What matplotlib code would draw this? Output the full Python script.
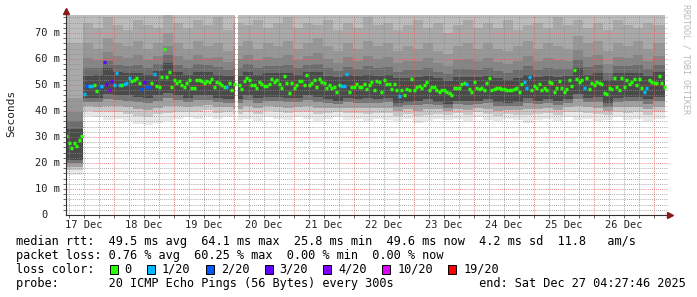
import numpy as np
import matplotlib
matplotlib.use("Agg")
import matplotlib.pyplot as plt
from matplotlib.patches import Rectangle
from matplotlib import transforms

# hour 0 = 17 Dec 00:00, one median value per hour from hour 5 on
first_hour = 5
median_ms = [
    30.4, 27.8, 25.8, 27.6, 26.7, 28.8, 30.4, 46.5, 49.5, 49.5, 49.5, 49.9,
    47.8, 49.1, 49.5, 58.7, 50.4, 48.1, 51.7, 50.1, 54.5, 50.1, 49.9, 50.4,
    50.9, 52.5, 51.7, 51.9, 52.7, 50.6, 48.6, 51.0, 49.2, 49.1, 50.8, 54.1,
    49.6, 49.1, 53.2, 63.8, 53.2, 55.0, 49.2, 51.9, 50.9, 51.5, 50.1, 49.4,
    50.6, 51.9, 48.8, 48.8, 51.9, 51.9, 51.5, 50.6, 51.7, 51.0, 52.3, 49.4,
    51.2, 50.6, 50.1, 49.2, 49.1, 50.9, 48.1, 50.4, np.nan, 50.1, 48.3, 51.7,
    52.6, 51.9, 50.0, 50.0, 48.7, 51.2, 50.4, 49.6, 49.6, 50.4, 52.2, 51.0,
    51.9, 50.4, 48.7, 53.6, 50.9, 46.8, 50.9, 48.8, 49.9, 51.4, 51.4, 49.8,
    53.8, 49.8, 50.6, 51.9, 49.2, 52.2, 51.3, 50.9, 48.7, 50.0, 48.7, 49.4,
    47.4, 50.0, 49.7, 49.7, 54.2, 47.4, 49.4, 49.4, 50.4, 49.4, 49.4, 50.3,
    48.5, 49.8, 51.0, 48.1, 51.7, 51.3, 47.4, 51.9, 50.4, 50.3, 48.5, 50.3,
    48.1, 45.8, 47.9, 46.2, 48.5, 47.9, 52.2, 48.1, 49.4, 49.7, 48.7, 50.0,
    51.0, 48.1, 49.1, 49.1, 48.1, 47.4, 48.1, 47.9, 47.4, 46.8, 46.2, 48.7,
    48.7, 48.7, 50.3, 50.9, 50.3, 48.5, 47.4, 51.3, 49.0, 48.3, 49.0, 48.1,
    50.6, 52.6, 47.9, 48.3, 48.7, 48.7, 48.3, 48.3, 47.9, 48.1, 48.1, 48.3,
    49.0, 47.4, 50.3, 51.3, 49.0, 53.0, 48.1, 49.7, 49.0, 50.4, 47.9, 49.0,
    48.1, 51.3, 50.6, 47.4, 48.7, 51.5, 48.7, 47.4, 48.5, 51.9, 49.7, 55.8,
    52.2, 51.3, 51.9, 49.0, 52.8, 48.3, 50.9, 50.0, 51.0, 50.6, 50.3, 47.1,
    46.5, 48.7, 48.3, 52.6, 49.1, 48.1, 52.6, 49.4, 51.9, 50.4, 51.0, 52.3,
    49.8, 52.2, 48.7, 47.2, 49.0, 51.9, 51.3, 50.6, 50.9, 53.5, 50.9, 49.4,
]
gap_hours = [73]

# hours with lost pings (out of 20)
loss_hours = [12, 13, 14, 15, 18, 19, 20, 21, 22, 23, 24, 25, 26, 28, 29, 30,
              35, 36, 37, 38, 40, 69, 115, 116, 117, 138, 165, 188, 189, 190,
              212, 236, 237]
loss_counts = [1, 2, 1, 1, 2, 1, 3, 3, 4, 3, 1, 1, 1, 1, 1, 1,
               2, 3, 2, 2, 1, 1, 1, 1, 1, 1, 1, 1, 1, 1,
               1, 1, 1]

loss_levels = [0, 1, 2, 3, 4, 10, 19]
loss_labels = ["0", "1/20", "2/20", "3/20", "4/20", "10/20", "19/20"]
loss_colors = ["#26ff00", "#00b8ff", "#0059ff", "#5e00ff", "#7e00ff", "#dd00ff", "#ff0000"]

# smoke, 4 hour bins (first bin = low stretch at start)
smoke_edges = [4.5, 11.5] + list(np.arange(15.5, 240, 4)) + [244.5]
smoke_lo = [15.5,
            38, 37.5, 36.5, 37, 36, 35, 34.5, 35.5, 36, 37, 37.5, 37, 38, 37, 37.5,
            36.5, 37, 36, 37.5, 37, 36.5, 37.5, 37, 36, 37, 37.5, 36.5, 37, 36, 37,
            36.5, 36, 37, 35.5, 36, 37, 36.5, 37, 36, 37.5, 36.5, 36, 37, 36.5, 35.5,
            36.5, 37, 36, 37.5, 36.5, 37, 36, 36.5, 37.5, 36.5, 37, 36, 37]
smoke_q25 = [21,
             45, 45, 46.5, 46, 46, 45.5, 45, 46, 47, 46,
             45, 46, 46, 45, 44.5, 44.5, 46, 45, 45.5, 45.5,
             45, 45, 46, 45.5, 44.5, 44, 45, 44.5, 45, 44.5,
             45, 43, 43.5, 44, 44.5, 43.5, 42.5, 44, 44, 44,
             44.5, 43.5, 43, 43.5, 45, 44, 44.5, 44, 44.5, 46.5,
             45, 45.5, 43, 45, 45.5, 45.5, 44.5, 45.5]
smoke_q75 = [33,
             53.5, 54, 56.5, 55, 54.5, 54.5, 54, 55.5, 58.5, 55,
             54, 55, 55, 54, 53.5, 53.5, 55, 54, 54.5, 54.5,
             54.5, 54, 55, 55, 53.5, 53, 54, 53.5, 54, 53.5,
             54, 52.5, 52.5, 53, 53.5, 52.5, 51.5, 53, 53, 53,
             53.5, 52.5, 52, 52.5, 54, 53, 53.5, 53, 53.5, 56.5,
             54, 54.5, 52, 54.5, 54.5, 54.5, 53.5, 55]
smoke_q95 = [45,
             66, 64, 68, 66, 65, 67, 64, 66, 70, 66,
             64, 67, 65, 66, 63, 65, 67, 64, 66, 65,
             67, 64, 66, 68, 65, 63, 66, 64, 67, 65,
             66, 63, 65, 64, 66, 63, 62, 65, 66, 64,
             66, 64, 63, 65, 67, 64, 66, 65, 64, 69,
             66, 67, 63, 66, 65, 67, 64, 66]
smoke_hi = [66,
            74, 72, 76, 73, 71, 75, 73, 72, 77, 74,
            72, 75, 73, 76, 71, 74, 73, 75, 72, 74,
            76, 72, 74, 73, 75, 71, 74, 72, 76, 73,
            74, 71, 73, 75, 72, 74, 70, 73, 75, 72,
            74, 72, 75, 71, 73, 74, 72, 76, 73, 75,
            72, 74, 71, 75, 73, 72, 74, 73]

day_labels = ["17 Dec", "18 Dec", "19 Dec", "20 Dec", "21 Dec",
              "22 Dec", "23 Dec", "24 Dec", "25 Dec", "26 Dec"]

MONO = "DejaVu Sans Mono"
W, H = 697, 297

fig = plt.figure(figsize=(W / 100, H / 100), dpi=100)
fig.patch.set_facecolor("white")
ax = fig.add_axes([66 / W, 1 - 215 / H, 602 / W, 200 / H])
ax.set_xlim(4.8, 245.6)
ax.set_ylim(0, 76.9)
ax.set_facecolor("white")

edges = np.array(smoke_edges)


def band(lo, hi, color):
    lo = np.append(lo, lo[-1])
    hi = np.append(hi, hi[-1])
    ax.fill_between(edges, lo, hi, step="post", color=color, lw=0, zorder=1)


lo = np.array(smoke_lo)
q25 = np.array(smoke_q25)
q75 = np.array(smoke_q75)
q95 = np.array(smoke_q95)
hi = np.array(smoke_hi)
top = np.full(len(lo), 80.0)

# lower half of the smoke: light at the bottom, dark near the median
fr = [0, 0.3, 0.55, 0.8, 1.0]
shades = ["#e8e8e8", "#c8c8c8", "#a0a0a0", "#747474"]
for i, c in enumerate(shades):
    band(lo + (q25 - lo) * fr[i], lo + (q25 - lo) * fr[i + 1], c)
band(q25, q75, "#4a4a4a")
fr = [0, 0.25, 0.55, 1.0]
shades = ["#6c6c6c", "#858585", "#979797"]
for i, c in enumerate(shades):
    band(q75 + (q95 - q75) * fr[i], q75 + (q95 - q75) * fr[i + 1], c)
band(q95, hi, "#a9a9a9")
band(hi, top, "#bdbdbd")

for g in gap_hours:
    ax.axvspan(g - 0.5, g + 0.5, color="white", lw=0, zorder=1.5)

# median, coloured by loss
hours = np.arange(first_hour, first_hour + len(median_ms))
loss = np.zeros(len(hours), dtype=int)
for h, n in zip(loss_hours, loss_counts):
    loss[h - first_hour] = n
cols = []
for n in loss:
    k = max(i for i, lv in enumerate(loss_levels) if lv <= n)
    cols.append(loss_colors[k])
med = np.array(median_ms)
ok = ~np.isnan(med)
ax.hlines(med[ok], hours[ok] - 0.6, hours[ok] + 0.6,
          colors=np.array(cols)[ok], lw=2.5, zorder=3)

# grid
ax.set_xticks(np.arange(24, 245, 24))
ax.set_xticks([h for h in range(6, 246, 6) if h % 24], minor=True)
ax.set_yticks(np.arange(10, 76, 10))
ax.set_yticks(np.arange(2, 77, 2), minor=True)
ax.set_axisbelow(False)
ax.grid(which="major", color=(0.9, 0.35, 0.35, 0.35), ls=(0, (1, 1.5)), lw=0.6)
ax.grid(which="minor", color=(0.55, 0.55, 0.55, 0.28), ls=(0, (1, 1.5)), lw=0.6)
ax.tick_params(which="both", direction="out", length=2, width=0.6, color="#505050",
               labelleft=False, labelbottom=False)
for s in ax.spines.values():
    s.set_visible(False)

# axes with arrow heads
ax.plot([0, 0], [0, 1.022], transform=ax.transAxes, color="#303030", lw=0.8,
        clip_on=False, zorder=4)
ax.plot([0, 1.004], [0, 0], transform=ax.transAxes, color="#303030", lw=0.8,
        clip_on=False, zorder=4)
ax.plot(0, 1.022, marker="^", ms=4, color="#8b1a1a", transform=ax.transAxes,
        clip_on=False, zorder=5)
ax.plot(1.004, 0, marker=">", ms=4, color="#8b1a1a", transform=ax.transAxes,
        clip_on=False, zorder=5)

# tick labels
ytr = transforms.blended_transform_factory(fig.transFigure, ax.transData)
for v in range(0, 80, 10):
    txt = f"{v} m" if v else "0"
    x = 60 if v else 47.5
    ax.text(x / W, v, txt, transform=ytr, ha="right", va="center",
            family=MONO, fontsize=7.5, color="#222222")
xtr = transforms.blended_transform_factory(ax.transData, ax.transAxes)
for d, lab in enumerate(day_labels):
    ax.text(12 + 24 * d, -0.05, lab, transform=xtr, ha="center", va="center",
            family=MONO, fontsize=7.5, color="#222222")

fig.text(11 / W, 1 - 113 / H, "Seconds", rotation=90, ha="center", va="center",
         family=MONO, fontsize=8, color="#222222")
fig.text(686 / W, 1 - 4 / H, "RRDTOOL / TOBI OETIKER", rotation=270, ha="center",
         va="top", family=MONO, fontsize=6, color="#b8b8b8")

# legend block
rows = [
    "median rtt:  49.5 ms avg  64.1 ms max  25.8 ms min  49.6 ms now  4.2 ms sd  11.8   am/s",
    "packet loss: 0.76 % avg  60.25 % max  0.00 % min  0.00 % now",
]
for y, line in zip([241.5, 255.5], rows):
    fig.text(16 / W, 1 - y / H, line, ha="left", va="center", family=MONO,
             fontsize=8.6, color="black")

fig.text(16 / W, 1 - 269.5 / H, "loss color:", ha="left", va="center",
         family=MONO, fontsize=8.6, color="black")
cw = 7.2
sx = 109.7
for lab, c in zip(loss_labels, loss_colors):
    fig.add_artist(Rectangle((sx / W, 1 - 274 / H), 8 / W, 9 / H,
                             transform=fig.transFigure, facecolor=c,
                             edgecolor="black", lw=0.7))
    lx = sx + 15
    fig.text(lx / W, 1 - 269.5 / H, lab, ha="left", va="center",
             family=MONO, fontsize=8.6, color="black")
    sx = lx + len(lab) * cw + 15

fig.text(16 / W, 1 - 283.3 / H,
         "probe:       20 ICMP Echo Pings (56 Bytes) every 300s            end: Sat Dec 27 04:27:46 2025",
         ha="left", va="center", family=MONO, fontsize=8.6, color="black")

fig.savefig("out.png", dpi=100)
